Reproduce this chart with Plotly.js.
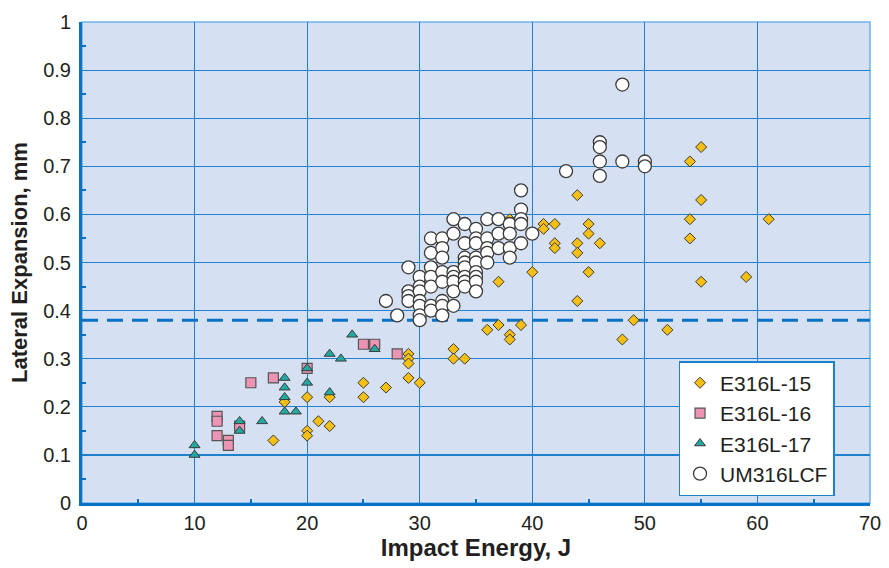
<!DOCTYPE html>
<html>
<head>
<meta charset="utf-8">
<script src="https://cdn.plot.ly/plotly-3.0.1.min.js"></script>
<style>html,body{margin:0;padding:0;background:#fff;}#chart{width:889px;height:568px;}</style>
</head>
<body>
<div id="chart"></div>
<script>
// E316L-15
const e15_x = [17,18,20,20,20,21,22,22,25,25,27,29,29,29,29,30,33,33,34,36,37,37,38,38,38,39,40,41,41,42,42,42,44,44,44,44,45,45,45,46,48,49,52,54,54,54,55,55,55,59,61];
const e15_y = [0.13,0.21,0.22,0.15,0.14,0.17,0.22,0.16,0.25,0.22,0.24,0.31,0.30,0.29,0.26,0.25,0.32,0.30,0.30,0.36,0.37,0.46,0.35,0.34,0.59,0.37,0.48,0.58,0.57,0.58,0.54,0.53,0.64,0.54,0.52,0.42,0.58,0.56,0.48,0.54,0.34,0.38,0.36,0.71,0.59,0.55,0.74,0.63,0.46,0.47,0.59];
// E316L-16
const e16_x = [12,12,12,13,13,14,15,17,20,25,26,28];
const e16_y = [0.18,0.17,0.14,0.13,0.12,0.16,0.25,0.26,0.28,0.33,0.33,0.31];
// E316L-17
const e17_x = [10,10,14,14,16,18,18,18,18,19,20,20,22,22,23,24,26];
const e17_y = [0.12,0.10,0.17,0.15,0.17,0.26,0.24,0.22,0.19,0.19,0.28,0.25,0.31,0.23,0.30,0.35,0.32];
// UM316LCF
const um_x = [27,28,29,29,29,29,30,30,30,30,30,30,30,31,31,31,31,31,31,31,32,32,32,32,32,32,32,32,33,33,33,33,33,33,33,34,34,34,34,34,34,34,34,35,35,35,35,35,35,35,35,35,36,36,36,36,36,37,37,37,38,38,38,38,39,39,39,39,39,40,43,46,46,46,46,48,48,50,50];
const um_y = [0.42,0.39,0.49,0.44,0.43,0.42,0.47,0.45,0.44,0.42,0.41,0.39,0.38,0.55,0.52,0.49,0.47,0.45,0.41,0.40,0.55,0.53,0.51,0.48,0.46,0.42,0.41,0.39,0.59,0.56,0.48,0.47,0.46,0.44,0.41,0.58,0.54,0.51,0.50,0.49,0.47,0.46,0.45,0.57,0.55,0.54,0.51,0.50,0.48,0.47,0.46,0.44,0.59,0.55,0.53,0.52,0.50,0.59,0.56,0.53,0.58,0.56,0.53,0.51,0.65,0.61,0.59,0.58,0.54,0.56,0.69,0.75,0.74,0.71,0.68,0.87,0.71,0.71,0.70];
// threshold line
const limit_x = [0,70];
const limit_y = [0.38,0.38];

const outline = '#3a3a3a';
const traces = [
  {x: limit_x, y: limit_y, mode:'lines', showlegend:false, hoverinfo:'skip',
   line:{color:'#0a72c4', width:3, dash:'16px,9px'}},
  {x: e15_x, y: e15_y, name:'E316L-15', mode:'markers', type:'scatter',
   marker:{symbol:'diamond', size:8.5, color:'#f7bf12', line:{color:outline, width:1}}},
  {x: e16_x, y: e16_y, name:'E316L-16', mode:'markers', type:'scatter',
   marker:{symbol:'square', size:10, color:'#ec94b4', line:{color:'#555', width:1.2}}},
  {x: e17_x, y: e17_y, name:'E316L-17', mode:'markers', type:'scatter',
   marker:{symbol:'triangle-up', size:9.5, color:'#23a9a2', line:{color:outline, width:1}}},
  {x: um_x, y: um_y, name:'UM316LCF', mode:'markers', type:'scatter',
   marker:{symbol:'circle', size:13, color:'#ffffff', line:{color:outline, width:1.3}}}
];

const gridc = '#1f80cc';
const layout = {
  width: 889, height: 568,
  margin: {l:82, r:19, t:22, b:65},
  paper_bgcolor:'#ffffff', plot_bgcolor:'#d5e1f2',
  showlegend: true,
  font:{family:'"Liberation Sans", Arial, sans-serif', color:'#231f20'},
  xaxis: {
    range:[0,70], dtick:10, tick0:0, showgrid:true, gridcolor:gridc, gridwidth:1.2,
    zeroline:false, showline:true, linecolor:'#0a72c4', linewidth:3,
    ticks:'', tickfont:{size:20, color:'#231f20'},
    minor:{dtick:5, ticks:'inside', ticklen:4, tickcolor:'#0a72c4', tickwidth:2, showgrid:false},
    title:{text:'<b>Impact Energy, J</b>', standoff:6, font:{size:24, color:'#231f20'}},
    fixedrange:true
  },
  yaxis: {
    range:[0,1], dtick:0.1, tick0:0, showgrid:true, gridcolor:gridc, gridwidth:1.2,
    zeroline:false, showline:true, linecolor:'#0a72c4', linewidth:3,
    ticks:'', ticklabelstandoff:4, tickfont:{size:20, color:'#231f20'},
    minor:{dtick:0.05, ticks:'inside', ticklen:4, tickcolor:'#0a72c4', tickwidth:2, showgrid:false},
    title:{text:'<b>Lateral Expansion, mm</b>', standoff:10, font:{size:22, color:'#231f20'}},
    fixedrange:true
  },
  shapes: [
    {type:'rect', xref:'paper', yref:'paper', x0:0, x1:1, y0:0, y1:1,
     line:{color:'#6fb3e6', width:1.5}, layer:'below'}
  ],
  legend: {
    x:0.757, y:0.295, xanchor:'left', yanchor:'top',
    bgcolor:'#ffffff', bordercolor:'#1f80cc', borderwidth:1.5,
    font:{size:21, color:'#231f20'}, tracegroupgap:0, itemwidth:30
  }
};

Plotly.newPlot('chart', traces, layout, {displayModeBar:false, staticPlot:true});
</script>
</body>
</html>
